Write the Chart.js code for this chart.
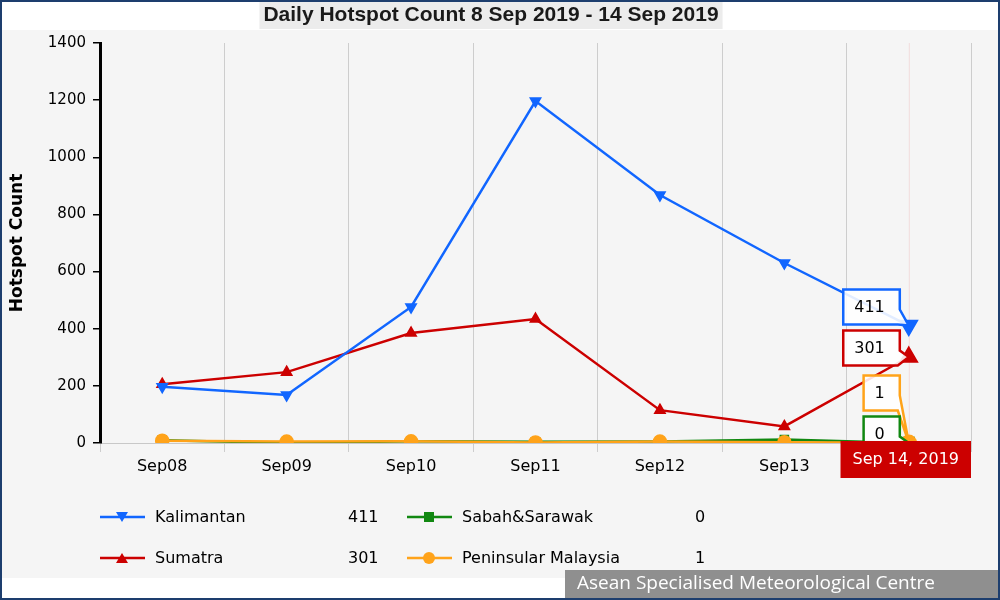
<!DOCTYPE html>
<html>
<head>
<meta charset="utf-8">
<script src="https://cdn.jsdelivr.net/npm/chart.js@4/dist/chart.umd.min.js"></script>
<style>
  html, body { margin:0; padding:0; background:#ffffff; }
  #wrap { position:absolute; left:0; top:0; width:1000px; height:600px; }
</style>
</head>
<body>
<div id="wrap"><canvas id="c" width="1000" height="600"></canvas></div>
<script>
// ---- data ----
const categories = ['Sep08','Sep09','Sep10','Sep11','Sep12','Sep13','Sep14'];
const kalimantan   = [197, 168, 476, 1197, 868, 630, 411];
const sumatra      = [206, 248, 385, 434, 115, 58, 301];
const sabahSarawak = [10, 0, 6, 4, 5, 12, 0];
const peninsular   = [8, 5, 6, 2, 5, 3, 1];
const seriesNames  = ['Kalimantan', 'Sumatra', 'Sabah&Sarawak', 'Peninsular Malaysia'];
const yMin = 0, yMax = 1400, yStep = 200;
const titleText  = 'Daily Hotspot Count 8 Sep 2019 - 14 Sep 2019';
const yTitleText = 'Hotspot Count';
const hoverLabel = 'Sep 14, 2019';
const creditText = 'Asean Specialised Meteorological Centre';

const colors = { kal:'#1166ff', sum:'#cc0000', sab:'#118811', pen:'#ffa31a' };
const FONT = 'DejaVu Sans';

function lastOf(a){ return a[a.length-1]; }

const decorPlugin = {
  id:'decor',
  beforeDraw(chart){
    const ctx = chart.ctx;
    ctx.save();
    ctx.fillStyle = '#ffffff';
    ctx.fillRect(0,0,1000,600);
    ctx.fillStyle = '#f5f5f5';
    ctx.fillRect(2,30,996,548);
    // title
    ctx.font = 'bold 21px "Liberation Sans", Arial, sans-serif';
    const tw = ctx.measureText(titleText).width;
    ctx.fillStyle = '#ececec';
    ctx.fillRect(491 - tw/2 - 4, 2, tw + 8, 27);
    ctx.fillStyle = '#1a1a1a';
    ctx.textAlign = 'center';
    ctx.textBaseline = 'middle';
    ctx.fillText(titleText, 491, 15);
    ctx.restore();
  },
  beforeDatasetsDraw(chart){
    const ctx = chart.ctx, a = chart.chartArea;
    const x = chart.scales.x.getPixelForValue(categories.length-1);
    ctx.save();
    ctx.strokeStyle = '#f1dcdc';
    ctx.lineWidth = 1;
    ctx.beginPath(); ctx.moveTo(x+0.5, a.top); ctx.lineTo(x+0.5, a.bottom); ctx.stroke();
    ctx.restore();
  },
  afterDatasetsDraw(chart){
    const ctx = chart.ctx, a = chart.chartArea;
    const items = chart.data.datasets.map((ds,i)=>{
      const pt = chart.getDatasetMeta(i).data[ds.data.length-1];
      return { x:pt.x, y:pt.y, v:lastOf(ds.data), color:ds.borderColor };
    });
    items.sort((p,q)=>p.y-q.y);
    const pitch = 41, h = 35;
    for (let i=items.length-1;i>=0;i--){
      let c = items[i].y - 9;
      if (i < items.length-1) c = Math.min(c, items[i+1].c - pitch);
      items[i].c = c;
    }
    ctx.save();
    ctx.font = '16px "' + FONT + '"';
    items.forEach(it=>{
      const txt = String(it.v);
      const w = ctx.measureText(txt).width + 26;
      const R = it.x - 9, L = R - w, T = it.c - h/2, B = it.c + h/2;
      ctx.beginPath();
      ctx.moveTo(L,T); ctx.lineTo(R,T); ctx.lineTo(R,T+20);
      ctx.lineTo(it.x, it.y); ctx.lineTo(R-2,B); ctx.lineTo(L,B); ctx.closePath();
      ctx.fillStyle = 'rgba(255,255,255,0.88)';
      ctx.fill();
      ctx.lineWidth = 2.5;
      ctx.strokeStyle = it.color;
      ctx.stroke();
      ctx.fillStyle = '#000';
      ctx.textAlign = 'center'; ctx.textBaseline = 'middle';
      ctx.fillText(txt, (L+R)/2 - 2, it.c + 1);
    });
    // crosshair date label
    const px = chart.scales.x.getPixelForValue(categories.length-1);
    ctx.font = '16px "' + FONT + '"';
    const lw = ctx.measureText(hoverLabel).width + 24;
    let lx = px - lw/2;
    if (lx + lw > a.right) lx = a.right - lw;
    ctx.fillStyle = '#cc0000';
    ctx.fillRect(lx, a.bottom - 2, lw, 37);
    ctx.fillStyle = '#ffffff';
    ctx.textAlign = 'center'; ctx.textBaseline = 'middle';
    ctx.fillText(hoverLabel, lx + lw/2, a.bottom + 17);
    ctx.restore();
  },
  afterDraw(chart){
    const ctx = chart.ctx;
    ctx.save();
    // legend
    const rows = [
      {name:seriesNames[0], v:lastOf(kalimantan), color:colors.kal, style:'tdown', x:100, y:517},
      {name:seriesNames[2], v:lastOf(sabahSarawak), color:colors.sab, style:'square', x:407, y:517},
      {name:seriesNames[1], v:lastOf(sumatra), color:colors.sum, style:'tup', x:100, y:558},
      {name:seriesNames[3], v:lastOf(peninsular), color:colors.pen, style:'circle', x:407, y:558}
    ];
    ctx.font = '16px "' + FONT + '"';
    ctx.textBaseline = 'middle';
    rows.forEach(r=>{
      ctx.strokeStyle = r.color; ctx.lineWidth = 2.5;
      ctx.beginPath(); ctx.moveTo(r.x, r.y); ctx.lineTo(r.x+45, r.y); ctx.stroke();
      const cx = r.x + 22;
      ctx.fillStyle = r.color;
      ctx.beginPath();
      if (r.style==='tdown'){ ctx.moveTo(cx-6,r.y-5); ctx.lineTo(cx+6,r.y-5); ctx.lineTo(cx,r.y+5); }
      else if (r.style==='tup'){ ctx.moveTo(cx-6,r.y+5); ctx.lineTo(cx+6,r.y+5); ctx.lineTo(cx,r.y-5); }
      else if (r.style==='square'){ ctx.rect(cx-5,r.y-5,10,10); }
      else { ctx.arc(cx,r.y,6,0,Math.PI*2); }
      ctx.closePath(); ctx.fill();
      ctx.fillStyle = '#000';
      ctx.textAlign = 'left';
      ctx.fillText(r.name, r.x + 55, r.y + 1);
      ctx.fillText(String(r.v), r.x === 100 ? 348 : 695, r.y + 1);
    });
    // credit
    ctx.fillStyle = '#8f8f8f';
    ctx.fillRect(565, 570, 433, 28);
    ctx.fillStyle = '#ffffff';
    ctx.font = '19px "Open Sans", sans-serif';
    ctx.textAlign = 'left';
    ctx.fillText(creditText, 577, 584);
    // border
    ctx.strokeStyle = '#1d3e6e';
    ctx.lineWidth = 2;
    ctx.strokeRect(1,1,998,598);
    ctx.restore();
  }
};

new Chart(document.getElementById('c'), {
  type:'line',
  data:{
    labels: categories,
    datasets:[
      { label:seriesNames[0], data:kalimantan, borderColor:colors.kal, backgroundColor:colors.kal,
        borderWidth:2.5, pointStyle:'triangle', rotation:180, pointRadius:[5,5,5,5,5,5,9], order:1 },
      { label:seriesNames[1], data:sumatra, borderColor:colors.sum, backgroundColor:colors.sum,
        borderWidth:2.5, pointStyle:'triangle', pointRadius:[5,5,5,5,5,5,9], order:2 },
      { label:seriesNames[2], data:sabahSarawak, borderColor:colors.sab, backgroundColor:colors.sab,
        borderWidth:2.5, pointStyle:'rect', pointRadius:[5,5,5,5,5,5,7], order:3 },
      { label:seriesNames[3], data:peninsular, borderColor:colors.pen, backgroundColor:colors.pen,
        borderWidth:2.5, pointStyle:'circle', pointRadius:[6,6,6,6,6,6,7], order:0 }
    ]
  },
  options:{
    responsive:false, animation:false, devicePixelRatio:1,
    layout:{ padding:{ top:43, right:29, left:0, bottom:0 } },
    elements:{ line:{ tension:0 }, point:{ borderWidth:0 } },
    plugins:{ legend:{display:false}, title:{display:false}, tooltip:{enabled:false} },
    scales:{
      x:{
        offset:true,
        grid:{ offset:true, color:'#cdcdcd', lineWidth:1, tickLength:9, drawTicks:true },
        border:{ color:'#c8c8c8', width:1 },
        ticks:{ font:{ family:FONT, size:16 }, color:'#000', padding:5, maxRotation:0 },
        afterFit(s){ s.height = 157; }
      },
      y:{
        min:yMin, max:yMax,
        ticks:{ stepSize:yStep, font:{ family:FONT, size:15 }, color:'#000', padding:7,
                callback:(v)=>String(v) },
        grid:{ drawOnChartArea:false, drawTicks:true, color:'#000', lineWidth:1.5, tickLength:7 },
        border:{ color:'#000', width:3 },
        title:{ display:true, text:yTitleText, color:'#000', font:{ family:FONT, size:17, weight:'bold' }, padding:{ top:7, bottom:0 } },
        afterFit(s){ s.width = 100; }
      }
    }
  },
  plugins:[decorPlugin]
});
</script>
</body>
</html>
